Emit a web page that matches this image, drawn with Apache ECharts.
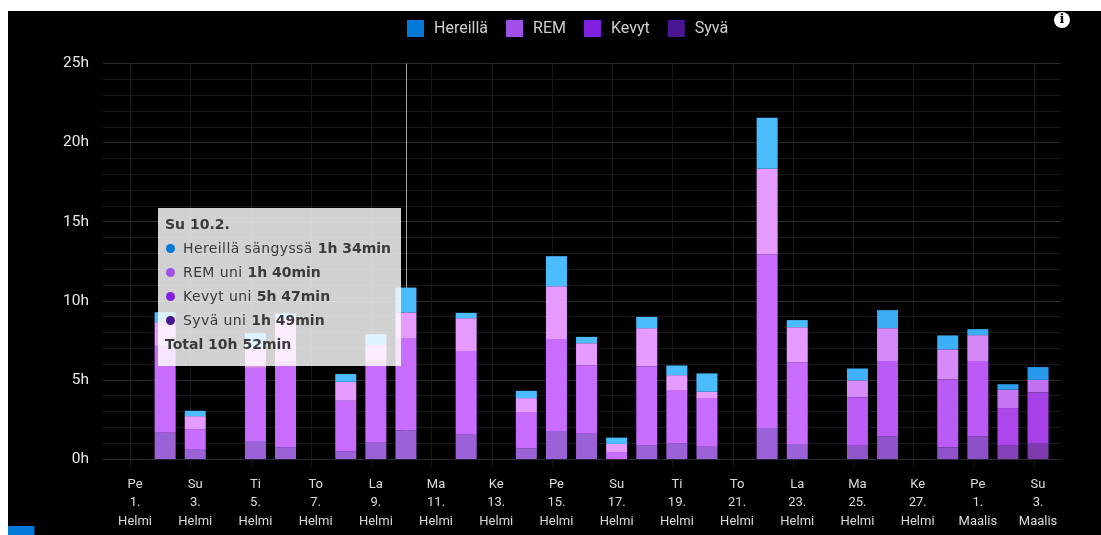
<!DOCTYPE html>
<html>
<head>
<meta charset="utf-8">
<style>
html,body{margin:0;padding:0;background:#fff;overflow:hidden;}
#chart{position:absolute;left:8px;top:11px;width:1093px;height:524px;background:#000;}
</style>
<script src="https://cdn.jsdelivr.net/npm/echarts@6/dist/echarts.min.js"></script>
</head>
<body>
<div id="chart"></div>
<script>
// Sleep stages per night, in hours (1 Feb - 3 Mar).
const weekdays = ['Pe','La','Su','Ma','Ti','Ke','To','Pe','La','Su','Ma','Ti','Ke','To','Pe','La','Su','Ma','Ti','Ke','To','Pe','La','Su','Ma','Ti','Ke','To','Pe','La','Su'];
const dates = [1,2,3,4,5,6,7,8,9,10,11,12,13,14,15,16,17,18,19,20,21,22,23,24,25,26,27,28,1,2,3];
const months = ['Helmi','Helmi','Helmi','Helmi','Helmi','Helmi','Helmi','Helmi','Helmi','Helmi','Helmi','Helmi','Helmi','Helmi','Helmi','Helmi','Helmi','Helmi','Helmi','Helmi','Helmi','Helmi','Helmi','Helmi','Helmi','Helmi','Helmi','Helmi','Maalis','Maalis','Maalis'];
const monthNumbers = [2,2,2,2,2,2,2,2,2,2,2,2,2,2,2,2,2,2,2,2,2,2,2,2,2,2,2,2,3,3,3];

const syva     = [0,1.66,0.63,0,1.14,0.73,0,0.50,1.03,1.817,0,1.53,0,0.68,1.77,1.60,0,0.88,1.00,0.78,0,1.96,0.95,0,0.84,1.43,0,0.74,1.43,0.84,1.01];
const kevyt    = [0,5.49,1.26,0,4.62,5.47,0,3.18,5.07,5.783,0,5.29,0,2.29,5.81,4.33,0.44,4.99,3.36,3.07,0,10.98,5.17,0,3.07,4.76,0,4.29,4.76,2.38,3.20];
const rem      = [0,1.50,0.82,0,1.33,2.76,0,1.20,1.10,1.667,0,2.08,0,0.88,3.34,1.39,0.51,2.40,0.94,0.40,0,5.41,2.21,0,1.06,2.08,0,1.90,1.64,1.16,0.79];
const hereilla = [0,0.63,0.34,0,0.86,0.24,0,0.49,0.69,1.567,0,0.34,0,0.46,1.90,0.40,0.40,0.71,0.61,1.16,0,3.22,0.45,0,0.75,1.14,0,0.88,0.38,0.35,0.81];

// Highlight fade per bar: 0 = fully lit, 1 = nearly back to rest.
const fade = [0,0,0,0,0,0,0,0,0,0,0,0,0,0,0,0,0,0,0,0,0,0,0,0,0.35,0.4,0.4,0.4,0.45,0.85,1];

const legendNames = ['Hereillä','REM','Kevyt','Syvä'];
const tipNames = ['Hereillä sängyssä','REM uni','Kevyt uni','Syvä uni'];
const legendColors = ['#0078d7','#a050e8','#8020e0','#4a1590'];
const litColors = [[75,189,255],[229,155,255],[200,109,255],[155,98,216]];
const dimColors = [[40,154,235],[192,112,240],[168,64,232],[126,59,176]];
const totalText = 'Total 10h 52min';
const activeIndex = 9;

const tickDays = [0,2,4,6,8,10,12,14,16,18,20,22,24,26,28,30];
const categories = weekdays.map((w,i)=>w+'\n'+dates[i]+'.\n'+months[i]);
const GRID_TOP = 52.5, GRID_H = 395.5;

const shade = s => p => {
  const t = fade[p.dataIndex], a = litColors[s], b = dimColors[s];
  return 'rgb(' + a.map((v,k)=>Math.round(v+(b[k]-v)*t)).join(',') + ')';
};
const hm = h => {
  const m = Math.round(h*60);
  return Math.floor(m/60)+'h '+(m%60)+'min';
};
const makeSeries = (name, data, s) => ({
  name, type:'bar', stack:'uni', data, xAxisIndex:1, yAxisIndex:1, barWidth:21,
  itemStyle:{color:shade(s)}, emphasis:{disabled:true}
});

const chart = echarts.init(document.getElementById('chart'));
chart.setOption({
  animation:false,
  backgroundColor:'#000',
  // Palette runs in stacking order, bottom segment first.
  color:[legendColors[3],legendColors[2],legendColors[1],legendColors[0]],
  legend:{
    data:legendNames, left:394, top:4, itemWidth:17, itemHeight:17, itemGap:18,
    icon:'rect', selectedMode:false,
    textStyle:{color:'#cfcfcf',fontFamily:'Roboto',fontSize:16,padding:[3,0,0,5]}
  },
  grid:[
    {left:95, top:GRID_TOP, width:958, height:GRID_H},
    {left:112, top:GRID_TOP, width:933.1, height:GRID_H}
  ],
  xAxis:[
    {type:'value', gridIndex:0, min:-0.913, max:30.9,
     axisLine:{show:true,onZero:false,lineStyle:{color:'#2a2b32'}},
     axisTick:{show:true,length:8,customValues:tickDays,lineStyle:{color:'#16171c'}},
     axisLabel:{show:false},
     splitLine:{show:true,lineStyle:{color:'#16171c'}},
     axisPointer:{show:false}},
    {type:'category', gridIndex:1, data:categories, boundaryGap:true,
     axisLine:{show:false}, axisTick:{show:false},
     axisLabel:{interval:1,margin:16,color:'#dcdcdc',fontFamily:'Roboto',fontSize:13,lineHeight:18.5},
     axisPointer:{type:'line',z:1,label:{show:false},lineStyle:{color:'#a4a4a4',width:1,type:'solid'}}}
  ],
  yAxis:[
    {type:'value', gridIndex:0, min:0, max:25, interval:5,
     axisLine:{show:false},
     axisTick:{show:true,length:5,lineStyle:{color:'#2a2b32'}},
     minorTick:{show:false,splitNumber:5},
     axisLabel:{color:'#e8e8e8',fontFamily:'Roboto',fontSize:15.5,margin:14,formatter:'{value}h'},
     splitLine:{show:true,lineStyle:{color:'#2a2b32'}},
     minorSplitLine:{show:true,lineStyle:{color:'#191a20'}}},
    {type:'value', gridIndex:1, min:0, max:25, show:false, splitLine:{show:false}}
  ],
  tooltip:{
    trigger:'axis', alwaysShowContent:true, showContent:true, transitionDuration:0,
    position:[150,197], confine:false,
    backgroundColor:'rgba(255,255,255,0.82)', borderWidth:0, padding:0,
    extraCssText:'box-shadow:none;border-radius:0;',
    formatter:ps => {
      const i = ps[0].dataIndex;
      const vals = [hereilla[i],rem[i],kevyt[i],syva[i]];
      const bold = t => '<b style="letter-spacing:0;">'+t+'</b>';
      const row = h => '<div style="height:24px;line-height:24px;white-space:nowrap;">'+h+'</div>';
      let html = row(bold(weekdays[i]+' '+dates[i]+'.'+monthNumbers[i]+'.'));
      tipNames.forEach((n,k)=>{
        html += row('<span style="display:inline-block;width:9px;height:9px;border-radius:50%;background:'+legendColors[k]+';margin:0 8px 0 1px;"></span>'+n+' '+bold(hm(vals[k])));
      });
      html += row(bold(totalText));
      return '<div style="box-sizing:border-box;width:243px;height:158px;padding:4px 0 0 7px;color:#3a3a3a;font-family:\'DejaVu Sans\';font-size:14px;letter-spacing:0.4px;">'+html+'</div>';
    }
  },
  graphic:[
    {type:'rect',left:0,top:515,shape:{width:26.5,height:9},style:{fill:'#0078d7'},silent:true},
    {type:'circle',shape:{cx:1054,cy:9,r:8},style:{fill:'#fff'},silent:true},
    {type:'text',x:1054,y:9,silent:true,style:{text:'i',fill:'#111',font:'bold 13px "DejaVu Serif"',align:'center',verticalAlign:'middle'}}
  ],
  series:[
    makeSeries('Syvä',syva,3),
    makeSeries('Kevyt',kevyt,2),
    makeSeries('REM',rem,1),
    makeSeries('Hereillä',hereilla,0)
  ]
});
chart.dispatchAction({type:'showTip',seriesIndex:0,dataIndex:activeIndex});
</script>
</body>
</html>
